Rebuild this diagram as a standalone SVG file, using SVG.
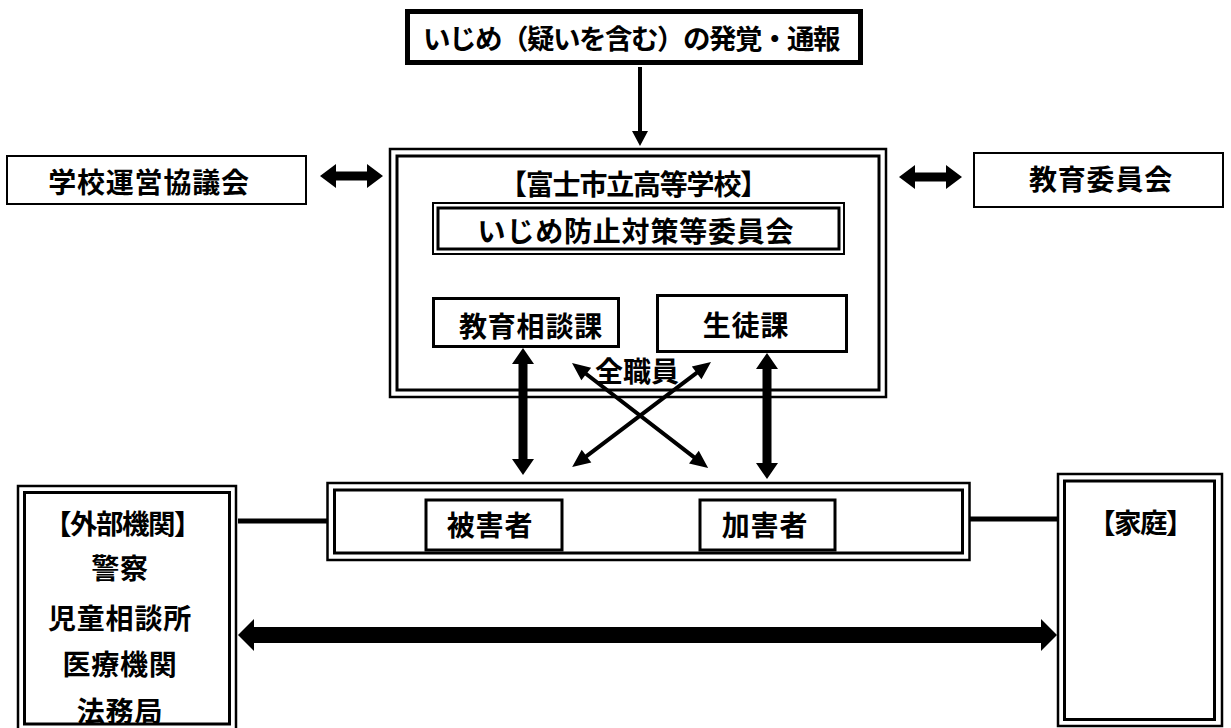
<svg xmlns="http://www.w3.org/2000/svg" width="1231" height="728" viewBox="0 0 1231 728">
<style>
.o{fill:#fff;stroke:#000;stroke-width:2.5}
.i{fill:none;stroke:#000;stroke-width:3}
.b{fill:#fff;stroke:#000;stroke-width:3}
.t{font-family:"Noto Sans CJK JP","Noto Sans CJK SC",sans-serif;font-weight:bold;font-size:28px;fill:#000;text-anchor:middle;dominant-baseline:central}
.s{letter-spacing:0.8px}
.n{font-size:27.5px;letter-spacing:-1.5px}
.a{fill:#000;stroke:none}
.l{stroke:#000;stroke-width:5;fill:none}
</style>
<rect width="1231" height="728" fill="#fff"/>
<g id="report">
<rect x="407.5" y="11.5" width="453" height="51" fill="#fff" stroke="#000" stroke-width="5"/>
<text class="t n" x="631" y="37">いじめ（疑いを含む）の発覚・通報</text>
</g>
<g id="council">
<rect x="7" y="156" width="299" height="48" fill="#fff" stroke="#000" stroke-width="2"/>
<text class="t s" x="149" y="181">学校運営協議会</text>
</g>
<g id="board">
<rect x="974" y="153" width="249" height="54" fill="#fff" stroke="#000" stroke-width="2"/>
<text class="t s" x="1101" y="178">教育委員会</text>
</g>
<g id="school">
<rect class="o" x="390" y="149" width="496" height="248"/>
<rect class="i" x="397" y="156" width="482" height="234"/>
<text class="t" x="633" y="183" style="font-size:28px;letter-spacing:-1.2px">【富士市立高等学校】</text>
</g>
<g id="committee">
<rect x="433" y="203" width="411" height="51" fill="#fff" stroke="#000" stroke-width="2"/>
<rect class="i" x="438" y="208" width="401" height="41"/>
<text class="t s" x="636" y="230">いじめ防止対策等委員会</text>
</g>
<g id="soudan">
<rect class="b" x="433.5" y="298.5" width="185" height="48"/>
<text class="t s" x="531" y="325">教育相談課</text>
</g>
<g id="seito">
<rect class="b" x="657.5" y="295.5" width="189" height="56"/>
<text class="t s" x="746" y="324">生徒課</text>
</g>
<g id="staff">
<text class="t" x="637" y="370">全職員</text>
</g>
<g id="students">
<rect class="o" x="327.5" y="483" width="642" height="77"/>
<rect class="i" x="334.5" y="490" width="628" height="63"/>
</g>
<g id="victim">
<rect class="b" x="426" y="500" width="136" height="50"/>
<text class="t s" x="490" y="524">被害者</text>
</g>
<g id="offender">
<rect class="b" x="700" y="500" width="135" height="50"/>
<text class="t s" x="765" y="524">加害者</text>
</g>
<g id="external">
<rect class="o" x="18" y="486" width="218" height="250"/>
<rect class="i" x="24.5" y="492.5" width="205" height="231.5"/>
<text class="t n" x="122" y="522">【外部機関】</text>
<text class="t s" x="120" y="567">警察</text>
<text class="t s" x="120" y="617">児童相談所</text>
<text class="t s" x="120" y="663">医療機関</text>
<text class="t s" x="120" y="710">法務局</text>
</g>
<g id="family">
<rect class="o" x="1058" y="474" width="164" height="252"/>
<rect class="i" x="1064.5" y="481" width="150" height="238.5"/>
<text class="t n" x="1140" y="521">【家庭】</text>
</g>
<g id="connectors">
<path class="a" d="M638,67 L642,67 L642,131 L648,131 L640,146 L632,131 L638,131 Z"/>
<path class="a" d="M320,176 L336,164 L336,171.5 L367,171.5 L367,164 L383,176 L367,188 L367,180.5 L336,180.5 L336,188 Z"/>
<path class="a" d="M899,177 L915,165 L915,172.5 L946,172.5 L946,165 L962,177 L946,189 L946,181.5 L915,181.5 L915,189 Z"/>
<path class="a" d="M523,348 L534,364 L527.5,364 L527.5,459 L534,459 L523,475 L512,459 L518.5,459 L518.5,364 L512,364 Z"/>
<path class="a" d="M767,353 L778,369 L771.5,369 L771.5,463 L778,463 L767,479 L756,463 L762.5,463 L762.5,369 L756,369 Z"/>
<path class="a" transform="translate(572,363) rotate(37.67)" d="M0,0 L18,-8 L18,-2 L154,-2 L154,-8 L172,0 L154,8 L154,2 L18,2 L18,8 Z"/>
<path class="a" transform="translate(711,362) rotate(142.93)" d="M0,0 L18,-8 L18,-2 L156,-2 L156,-8 L174,0 L156,8 L156,2 L18,2 L18,8 Z"/>
<line class="l" x1="238" y1="521" x2="328" y2="521"/>
<line class="l" x1="969" y1="519" x2="1058" y2="519"/>
<path class="a" d="M238,635 L254,619 L254,627 L1041,627 L1041,619 L1057,635 L1041,651 L1041,643 L254,643 L254,651 Z"/>
</g>
</svg>
